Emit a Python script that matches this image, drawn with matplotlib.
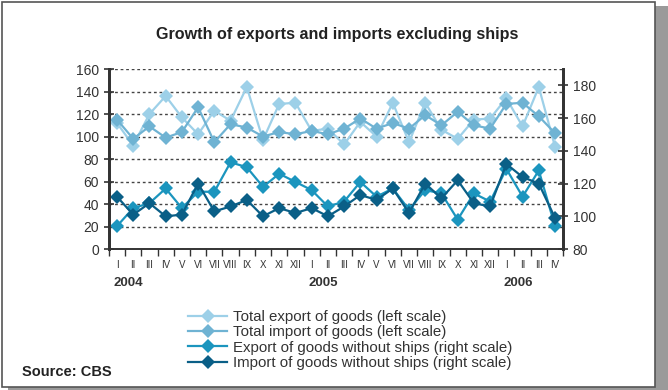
import matplotlib.pyplot as plt
from matplotlib.patches import Rectangle
from matplotlib.transforms import blended_transform_factory

plt.rcParams['font.family'] = ['Liberation Sans', 'DejaVu Sans']

months = ["I", "II", "III", "IV", "V", "VI", "VII", "VIII", "IX", "X", "XI", "XII",
          "I", "II", "III", "IV", "V", "VI", "VII", "VIII", "IX", "X", "XI", "XII",
          "I", "II", "III", "IV"]
years = ["2004", "2005", "2006"]
year_start = [0, 12, 24]

# left scale
total_export = [112, 92, 120, 136, 117, 102, 123, 114, 144, 97, 129, 130,
                105, 107, 93, 113, 100, 130, 95, 130, 106, 98, 115, 116,
                134, 109, 144, 91]
total_import = [115, 98, 109, 99, 104, 126, 95, 111, 108, 100, 104, 102,
                105, 102, 107, 116, 107, 112, 107, 119, 110, 122, 110, 107,
                129, 130, 118, 103]
# right scale
export_no_ships = [94, 105, 108, 117, 105, 115, 115, 133, 130, 118, 126, 121,
                   116, 106, 109, 121, 112, 117, 104, 116, 114, 98, 114, 109,
                   129, 112, 128, 94]
import_no_ships = [112, 101, 108, 100, 101, 120, 103, 106, 110, 100, 105, 102,
                   105, 100, 106, 113, 110, 117, 102, 120, 111, 122, 108, 106,
                   132, 124, 120, 99]

c_tex = "#9DD0E8"
c_tim = "#6FB3D3"
c_exs = "#1B95BE"
c_ims = "#0A5F87"
txt = "#333333"

fig = plt.figure(figsize=(6.68, 3.9), dpi=100)

# frame with shadow
fig.patches.append(Rectangle((0.012, 0.0), 0.988, 0.985, transform=fig.transFigure,
                             facecolor="#9a9a9a", edgecolor="none", zorder=-3))
fig.patches.append(Rectangle((0.003, 0.008), 0.978, 0.987, transform=fig.transFigure,
                             facecolor="white", edgecolor="#555555", linewidth=1.2, zorder=-2))

ax = fig.add_axes([0.163, 0.3615, 0.680, 0.4615])
ax2 = ax.twinx()

x = list(range(len(months)))
kw = dict(marker="D", markersize=7, linewidth=1.6, markeredgewidth=0)
l1, = ax.plot(x, total_export, color=c_tex, label="Total export of goods (left scale)", **kw)
l2, = ax.plot(x, total_import, color=c_tim, label="Total import of goods (left scale)", **kw)
l3, = ax2.plot(x, export_no_ships, color=c_exs, label="Export of goods without ships (right scale)", **kw)
l4, = ax2.plot(x, import_no_ships, color=c_ims, label="Import of goods without ships (right scale)", **kw)

ax.set_xlim(-0.5, len(months) - 0.5)
ax.set_ylim(0, 160)
ax.set_yticks(range(0, 161, 20))
ax2.set_ylim(80, 190)
ax2.set_yticks(range(80, 181, 20))

ax.yaxis.grid(True, linestyle=(0, (2, 2)), color="#444444", linewidth=1.0)
ax.set_axisbelow(True)

ax.set_xticks(x)
ax.set_xticklabels(months, fontsize=7, color=txt)
ax.set_xticks([i - 0.5 for i in range(len(months) + 1)], minor=True)
ax.tick_params(axis="x", which="major", length=0, pad=8)
ax.tick_params(axis="x", which="minor", length=5, width=1, direction="out", color=txt)
ax.tick_params(axis="y", length=7, width=1.2, direction="inout", labelsize=10, labelcolor=txt, color=txt)
ax2.tick_params(axis="y", length=7, width=1.2, direction="inout", labelsize=10, labelcolor=txt, color=txt)

for a in (ax, ax2):
    a.spines["top"].set_visible(False)
    a.spines["left"].set_linewidth(2)
    a.spines["right"].set_linewidth(2)
    a.spines["bottom"].set_linewidth(1.2)
    for s in a.spines.values():
        s.set_color(txt)

tr = blended_transform_factory(ax.transData, ax.transAxes)
for yr, pos in zip(years, year_start):
    ax.text(pos - 0.2, -0.19, yr, transform=tr, ha="left", va="center",
            fontsize=9.5, fontweight="bold", color=txt)

fig.text(0.505, 0.912, "Growth of exports and imports excluding ships", ha="center",
         va="center", fontsize=11.6, fontweight="bold", color="#222222")
fig.text(0.033, 0.046, "Source: CBS", ha="left", va="center", fontsize=10.5,
         fontweight="bold", color="#222222")

fig.legend(handles=[l1, l2, l3, l4], loc="upper left", bbox_to_anchor=(0.273, 0.22),
           frameon=False, fontsize=10.8, handlelength=2.6, handletextpad=0.4,
           labelspacing=0.08, borderaxespad=0, labelcolor=txt)

fig.savefig("out.png", dpi=100)
